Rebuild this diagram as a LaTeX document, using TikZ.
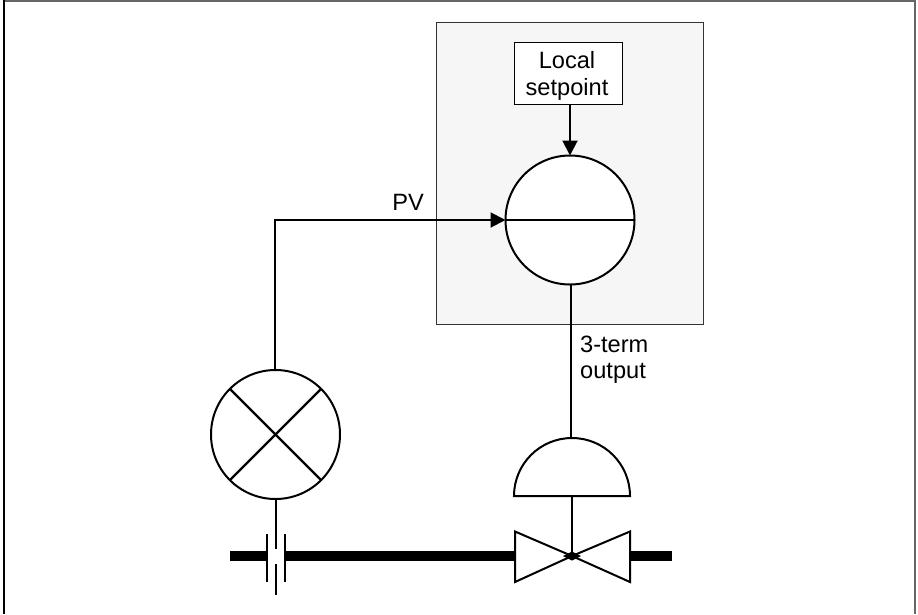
\documentclass[tikz,border=0pt]{standalone}
\usepackage{fontspec}
\setmainfont{Liberation Sans}
\usetikzlibrary{arrows.meta}
\definecolor{panel}{HTML}{F6F6F6}
\tikzset{
  x=1pt,y=-1pt,
  ln/.style={draw=black,line width=2pt},
  pipe/.style={draw=black,line width=10pt},
  txt/.style={font=\fontsize{23.6}{27}\selectfont,inner sep=0pt,align=center},
  arr/.style={-{Triangle[length=15pt,width=15pt]}}
}
\begin{document}
\begin{tikzpicture}
\useasboundingbox (0,0) rectangle (918,614);
\fill[white] (0,0) rectangle (918,614);
\draw[draw=black!60,line width=1.6pt] (4,0.9) -- (915,0.9) -- (915,614);
\draw[draw=black,line width=1.6pt] (4,0) -- (4,614);
\node[draw=black!80,line width=1pt,fill=panel,minimum width=267pt,minimum height=302pt,inner sep=0pt] (panel) at (569.5,173) {};
\node[draw=black,line width=1pt,fill=white,minimum width=108pt,minimum height=62pt,inner sep=0pt] (lsp) at (568,73) {};
\node[txt,anchor=base] (l1) at (567,68) {Local};
\node[txt,anchor=base] (l2) at (567,95) {setpoint};
\node[circle,ln,fill=white,minimum size=129pt,inner sep=0pt,outer sep=0pt] (ctrl) at (570,220) {};
\draw[ln] (ctrl.west) -- (ctrl.east);
\node[circle,ln,fill=white,minimum size=129pt,inner sep=0pt,outer sep=0pt] (sensor) at (275.5,434.5) {};
\draw[draw=black,line width=2.4pt] (sensor.45) -- (sensor.225);
\draw[draw=black,line width=2.4pt] (sensor.135) -- (sensor.315);
\draw[ln,arr] (ctrl.north |- lsp.south) -- (ctrl.north);
\draw[ln,arr] ([xshift=-0.5pt]sensor.north) |- (ctrl.west);
\node[txt,anchor=base] (pv) at (408,210) {PV};
\coordinate (domeW) at (514,496);
\coordinate (domeN) at (571,438);
\draw[ln,fill=white] (domeW) arc[start angle=180,end angle=0,radius=58pt] -- cycle;
\draw[ln] (domeN |- ctrl.south) -- (domeN);
\node[txt,anchor=base west] (o1) at (580,352) {3-term};
\node[txt,anchor=base west] (o2) at (580,378.5) {output};
\coordinate (pipeA) at (230,556);
\coordinate (pipeB) at (267,556);
\coordinate (pipeC) at (285,556);
\coordinate (valveW) at (515,556);
\coordinate (valveE) at (630,556);
\coordinate (pipeD) at (672,556);
\draw[pipe] (pipeA) -- (pipeB);
\draw[pipe] (pipeC) -- (valveW);
\draw[pipe] (valveE) -- (pipeD);
\coordinate (valveC) at (572,556);
\draw[ln,fill=white] (valveC) -- (515,531.5) -- (515,582) -- cycle;
\draw[ln,fill=white] (valveC) -- (630,531.5) -- (630,582) -- cycle;
\fill[black] (563,556) -- (572,551.5) -- (581,556) -- (572,560.5) -- cycle;
\draw[ln] (572,496) -- (valveC);
\draw[ln] (267,534) -- (267,582);
\draw[ln] (285,534) -- (285,582);
\coordinate (st) at (276,549);
\coordinate (su) at (276,564);
\coordinate (se) at (276,595);
\draw[ln] ([xshift=0.5pt]sensor.south) -- (st);
\draw[ln] (su) -- (se);
\end{tikzpicture}
\end{document}
